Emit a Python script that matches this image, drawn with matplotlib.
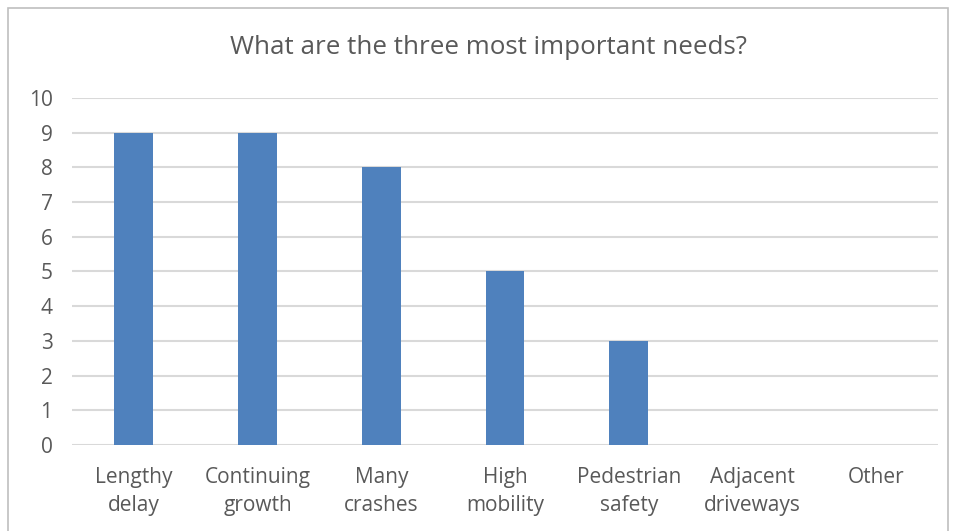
import matplotlib
matplotlib.use("Agg")
import matplotlib.pyplot as plt
from matplotlib.patches import Rectangle

categories = ["Lengthy\ndelay", "Continuing\ngrowth", "Many\ncrashes", "High\nmobility",
              "Pedestrian\nsafety", "Adjacent\ndriveways", "Other"]
values = [9, 9, 8, 5, 3, 0, 0]
yticks = list(range(0, 11))
title = "What are the three most important needs?"

plt.rcParams['font.family'] = ['Open Sans', 'DejaVu Sans']
text_color = "#595959"
bar_color = "#4F81BD"
grid_color = "#D9D9D9"

fig = plt.figure(figsize=(9.58, 5.31), dpi=100)
ax = fig.add_axes([72/958, 1-445/531, (938-72)/958, (445-98)/531])

x = list(range(len(categories)))
ax.bar(x, values, width=0.315, color=bar_color, zorder=3)
ax.set_xlim(-0.5, len(categories)-0.5)
ax.set_ylim(0, 10)
ax.set_yticks(yticks)
ax.set_yticklabels([str(t) for t in yticks], fontsize=15, color=text_color)
ax.set_xticks(x)
ax.set_xticklabels(categories, fontsize=15, color=text_color, linespacing=1.4)
ax.tick_params(axis='both', length=0)
ax.tick_params(axis='x', pad=16)
ax.tick_params(axis='y', pad=14)
ax.grid(axis='y', color=grid_color, linewidth=1.5, zorder=0)
for s in ax.spines.values():
    s.set_visible(False)

fig.text(489/958, 1-47/531, title, ha='center', va='center', fontsize=18.7, color=text_color)

border = Rectangle((8/958, -0.05), (948-8)/958, 1.05-8/531, transform=fig.transFigure,
                   fill=False, edgecolor="#BFBFBF", linewidth=1.2)
fig.patches.append(border)

fig.savefig("out.png", dpi=100)
